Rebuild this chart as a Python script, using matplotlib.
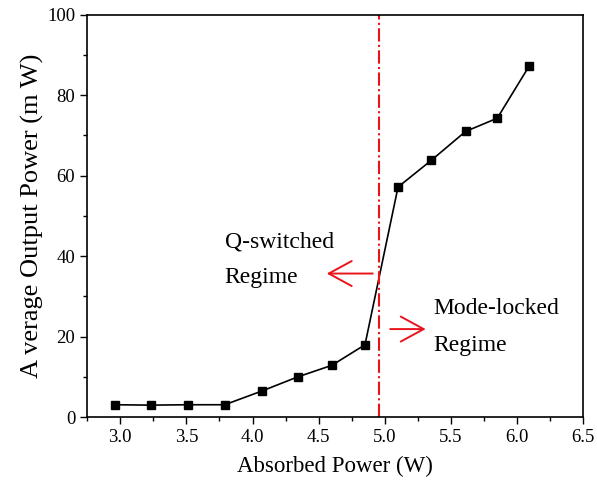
import matplotlib.pyplot as plt
from matplotlib.ticker import MultipleLocator

# data
absorbed = [2.96, 3.23, 3.51, 3.79, 4.07, 4.34, 4.60, 4.85, 5.10, 5.35, 5.61, 5.85, 6.09]
output = [3.1, 3.0, 3.1, 3.1, 6.5, 10.0, 12.9, 18.0, 57.2, 63.8, 71.0, 74.3, 87.2]
boundary = 4.955

plt.rcParams['font.family'] = ['Liberation Serif', 'DejaVu Serif']

fig = plt.figure(figsize=(5.97, 4.92), dpi=100)
ax = fig.add_axes([0.146, 0.152, 0.831, 0.818])

ax.plot(absorbed, output, color='black', linewidth=1.2, marker='s',
        markersize=6.3, markerfacecolor='black', markeredgecolor='black')
ax.axvline(boundary, color='#e8141c', linestyle='-.', linewidth=1.5)

arrow = dict(arrowstyle='->,head_length=0.55,head_width=0.3', color='#e8141c',
             linewidth=1.4, mutation_scale=30)
ax.annotate('', xy=(4.54, 35.7), xytext=(4.93, 35.7), arrowprops=arrow)
ax.annotate('', xy=(5.33, 21.9), xytext=(5.02, 21.9), arrowprops=arrow)

ax.text(3.79, 43.5, 'Q-switched', fontsize=17, va='center')
ax.text(3.79, 34.6, 'Regime', fontsize=17, va='center')
ax.text(5.365, 26.9, 'Mode-locked', fontsize=17, va='center')
ax.text(5.365, 17.7, 'Regime', fontsize=17, va='center')

ax.set_xlim(2.75, 6.5)
ax.set_ylim(0, 100)
ax.xaxis.set_major_locator(MultipleLocator(0.5))
ax.xaxis.set_minor_locator(MultipleLocator(0.25))
ax.yaxis.set_major_locator(MultipleLocator(20))
ax.yaxis.set_minor_locator(MultipleLocator(10))
ax.set_xticks([3.0, 3.5, 4.0, 4.5, 5.0, 5.5, 6.0, 6.5])
ax.set_xticklabels(['3.0', '3.5', '4.0', '4.5', '5.0', '5.5', '6.0', '6.5'])
ax.tick_params(which='both', direction='out', top=False, right=False, labelsize=13.5, width=1)
ax.tick_params(which='major', length=5)
ax.tick_params(which='minor', length=3)
for s in ax.spines.values():
    s.set_linewidth(1.2)

ax.set_xlabel('Absorbed Power (W)', fontsize=16.5, labelpad=7)
ax.set_ylabel('A verage Output Power (m W)', fontsize=19, labelpad=2)

fig.savefig('out.png', dpi=100)
